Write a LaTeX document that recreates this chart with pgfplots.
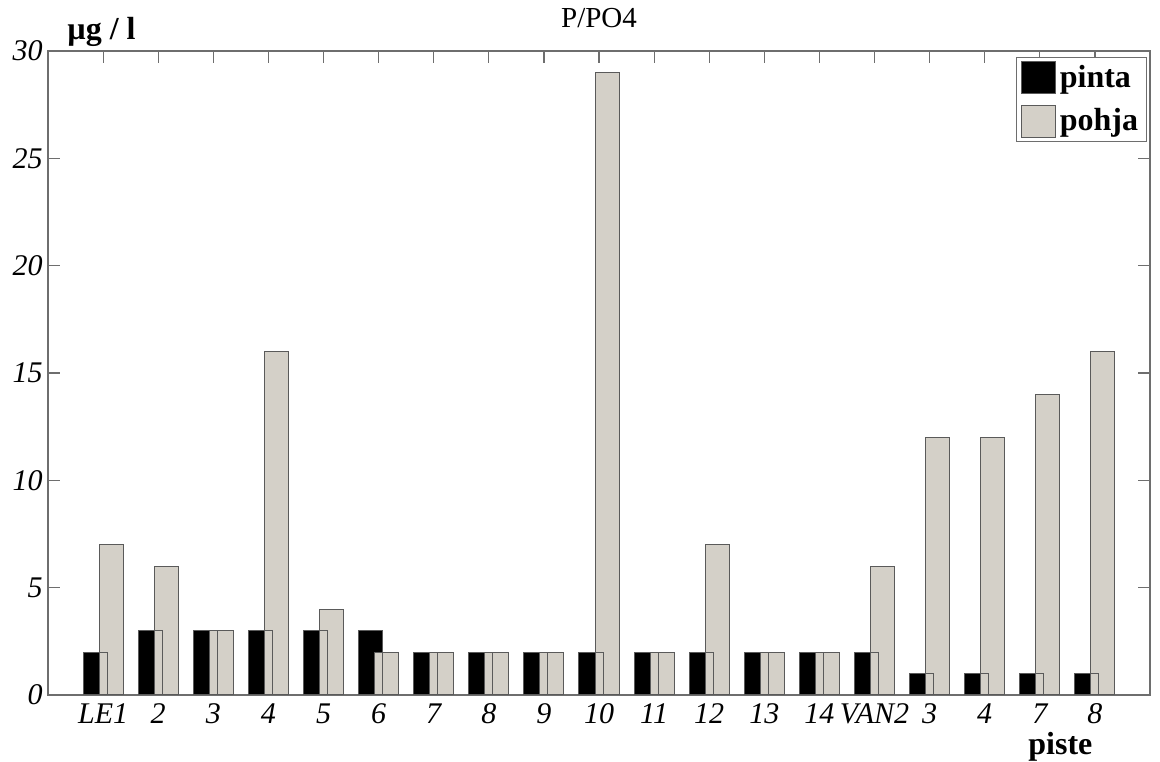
\documentclass[border=0pt]{standalone}
\usepackage{fontspec}
\setmainfont{Liberation Serif}
\usepackage{pgfplots}
\pgfplotsset{compat=1.18}

\definecolor{pohjagray}{RGB}{212,208,200}
\definecolor{edgegray}{RGB}{90,90,90}
\definecolor{axgray}{RGB}{110,110,110}

\pgfplotsset{
	mylegend/.style={legend image code/.code={\draw[##1] (0pt,-8pt) rectangle (17pt,8pt);}},
}

\begin{document}
\begin{tikzpicture}
	\begin{axis}[
			scale only axis,
			width=551pt,
			height=322pt,
			xmin=0, xmax=20,
			ymin=0, ymax=30,
			ybar,
			bar width=0.436,
			clip=false,
			xtick={1,...,19},
			xticklabels={LE1,2,3,4,5,6,7,8,9,10,11,12,13,14,VAN2,3,4,7,8},
			ytick={0,5,10,15,20,25,30},
			/pgf/number format/assume math mode=true,
			ticklabel style={font=\fontsize{15}{18}\selectfont\itshape},
			xticklabel style={anchor=base, yshift=-14.5pt, inner sep=0.5pt},
			yticklabel style={inner sep=2.5pt},
			major tick length=6pt,
			tick align=inside,
			axis line style={axgray, line width=0.6pt},
			tick style={axgray, line width=0.6pt},
			legend style={at={(0.997,0.991)}, anchor=north east,
					draw=axgray, line width=0.6pt,
					font=\bfseries\fontsize{16}{18}\selectfont,
					inner sep=2pt, row sep=5pt,
					/tikz/every even column/.append style={column sep=1pt}},
			legend cell align=left,
		]
		% pinta (black, left)
		\addplot[bar shift=-0.1455, fill=black, draw=edgegray, line width=0.5pt, mylegend] coordinates {
				(1,2) (2,3) (3,3) (4,3) (5,3) (6,3) (7,2) (8,2) (9,2) (10,2)
				(11,2) (12,2) (13,2) (14,2) (15,2) (16,1) (17,1) (18,1) (19,1)
			};
		% pohja (gray, right)
		\addplot[bar shift=0.1455, fill=pohjagray, draw=edgegray, line width=0.5pt, mylegend] coordinates {
				(1,7) (2,6) (3,3) (4,16) (5,4) (6,2) (7,2) (8,2) (9,2) (10,29)
				(11,2) (12,7) (13,2) (14,2) (15,6) (16,12) (17,12) (18,14) (19,16)
			};
		% pinta outlines on top
		\addplot[bar shift=-0.1455, fill=none, draw=edgegray, line width=0.5pt, forget plot] coordinates {
				(1,2) (2,3) (3,3) (4,3) (5,3) (6,3) (7,2) (8,2) (9,2) (10,2)
				(11,2) (12,2) (13,2) (14,2) (15,2) (16,1) (17,1) (18,1) (19,1)
			};
		\legend{pinta,pohja}

		\node[anchor=base, font=\fontsize{14.5}{16}\selectfont] at ([yshift=11.5pt]rel axis cs:0.5,1) {P/PO4};
		\node[anchor=base west, inner sep=0pt, font=\bfseries\fontsize{16}{18}\selectfont] at ([xshift=9.5pt,yshift=5.5pt]rel axis cs:0,1) {µg / l};
		\node[anchor=base west, inner sep=0pt, font=\bfseries\fontsize{16}{18}\selectfont] at ([xshift=-61pt,yshift=-30pt]rel axis cs:1,0) {piste};
		\path ([xshift=-24pt,yshift=25.5pt]rel axis cs:0,1) rectangle ([xshift=5pt,yshift=-33.5pt]rel axis cs:1,0);
	\end{axis}
\end{tikzpicture}
\end{document}
